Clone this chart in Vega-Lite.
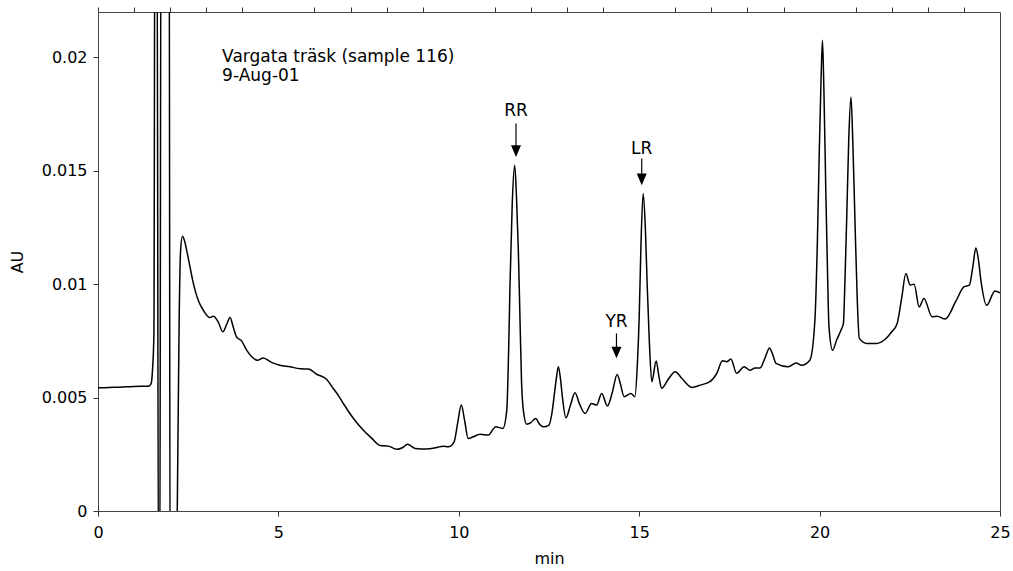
{
  "$schema": "https://vega.github.io/schema/vega-lite/v6.json",
  "width": 902,
  "height": 499,
  "autosize": "none",
  "padding": {"left": 98, "top": 12, "right": 13, "bottom": 60},
  "background": "white",
  "config": {
    "view": {"stroke": "#444", "strokeWidth": 1},
    "font": "DejaVu Sans",
    "axis": {"labelFont": "DejaVu Sans", "titleFont": "DejaVu Sans", "labelFontSize": 16, "titleFontSize": 16, "titleFontWeight": "normal", "labelColor": "black", "titleColor": "black", "tickColor": "#333", "grid": false, "domain": false, "labelOverlap": false}
  },
  "resolve": {"axis": {"x": "independent"}},
  "datasets": {
    "trace": [
      {"t":0,"v":0.00543},{"t":0.3,"v":0.00545},{"t":0.6,"v":0.00546},{"t":0.9,"v":0.00548},{"t":1.2,"v":0.0055},{"t":1.4,"v":0.0055},{"t":1.47,"v":0.0056},{"t":1.51,"v":0.0062},{"t":1.55,"v":0.0078},{"t":1.58,"v":0.03},{"t":1.63,"v":0.03},{"t":1.68,"v":-0.005},{"t":1.71,"v":-0.005},{"t":1.75,"v":0.03},{"t":1.97,"v":0.03},{"t":2.0,"v":-0.005},{"t":2.16,"v":-0.005},{"t":2.2,"v":0.0005},{"t":2.25,"v":0.0085},{"t":2.29,"v":0.0115},{"t":2.34,"v":0.01211},{"t":2.4,"v":0.0119},{"t":2.47,"v":0.0114},{"t":2.55,"v":0.01076},{"t":2.62,"v":0.0102},{"t":2.69,"v":0.00974},{"t":2.8,"v":0.0092},{"t":2.92,"v":0.00885},{"t":3.1,"v":0.00853},{"t":3.2,"v":0.00859},{"t":3.33,"v":0.00834},{"t":3.46,"v":0.0079},{"t":3.56,"v":0.0082},{"t":3.66,"v":0.00853},{"t":3.75,"v":0.0081},{"t":3.84,"v":0.00768},{"t":3.98,"v":0.0075},{"t":4.12,"v":0.00709},{"t":4.26,"v":0.0068},{"t":4.42,"v":0.00665},{"t":4.58,"v":0.00675},{"t":4.81,"v":0.00655},{"t":5.04,"v":0.00643},{"t":5.32,"v":0.00636},{"t":5.6,"v":0.00627},{"t":5.83,"v":0.00626},{"t":6.06,"v":0.00603},{"t":6.34,"v":0.0058},{"t":6.52,"v":0.0054},{"t":6.66,"v":0.0051},{"t":6.8,"v":0.00474},{"t":7.08,"v":0.00408},{"t":7.35,"v":0.00357},{"t":7.59,"v":0.0032},{"t":7.82,"v":0.00289},{"t":8.05,"v":0.00286},{"t":8.28,"v":0.00272},{"t":8.45,"v":0.0028},{"t":8.58,"v":0.00294},{"t":8.79,"v":0.00276},{"t":9.11,"v":0.00273},{"t":9.39,"v":0.0028},{"t":9.57,"v":0.00286},{"t":9.71,"v":0.00283},{"t":9.87,"v":0.00305},{"t":9.97,"v":0.0039},{"t":10.07,"v":0.00467},{"t":10.16,"v":0.004},{"t":10.26,"v":0.0032},{"t":10.4,"v":0.00327},{"t":10.59,"v":0.00338},{"t":10.82,"v":0.00335},{"t":10.95,"v":0.0036},{"t":11.02,"v":0.00371},{"t":11.22,"v":0.00364},{"t":11.33,"v":0.00445},{"t":11.38,"v":0.007},{"t":11.42,"v":0.01003},{"t":11.48,"v":0.0135},{"t":11.55,"v":0.01524},{"t":11.6,"v":0.0138},{"t":11.65,"v":0.0115},{"t":11.7,"v":0.0082},{"t":11.74,"v":0.00563},{"t":11.8,"v":0.0043},{"t":11.88,"v":0.00383},{"t":12.0,"v":0.0039},{"t":12.13,"v":0.00408},{"t":12.25,"v":0.0038},{"t":12.34,"v":0.00371},{"t":12.5,"v":0.00379},{"t":12.58,"v":0.0043},{"t":12.64,"v":0.00504},{"t":12.7,"v":0.0058},{"t":12.76,"v":0.00636},{"t":12.82,"v":0.0058},{"t":12.87,"v":0.00504},{"t":12.97,"v":0.00411},{"t":13.1,"v":0.0047},{"t":13.22,"v":0.00521},{"t":13.35,"v":0.0047},{"t":13.5,"v":0.0043},{"t":13.68,"v":0.00474},{"t":13.82,"v":0.00467},{"t":13.96,"v":0.00518},{"t":14.12,"v":0.00463},{"t":14.25,"v":0.0052},{"t":14.39,"v":0.00602},{"t":14.48,"v":0.0056},{"t":14.58,"v":0.00504},{"t":14.77,"v":0.00518},{"t":14.88,"v":0.00504},{"t":14.95,"v":0.0065},{"t":15.0,"v":0.00856},{"t":15.05,"v":0.0118},{"t":15.11,"v":0.014},{"t":15.17,"v":0.0125},{"t":15.22,"v":0.01003},{"t":15.28,"v":0.0075},{"t":15.35,"v":0.0057},{"t":15.47,"v":0.00661},{"t":15.55,"v":0.0059},{"t":15.62,"v":0.00541},{"t":15.8,"v":0.0058},{"t":16.0,"v":0.00614},{"t":16.18,"v":0.00585},{"t":16.46,"v":0.00545},{"t":16.69,"v":0.00555},{"t":16.96,"v":0.0057},{"t":17.15,"v":0.00607},{"t":17.31,"v":0.00662},{"t":17.43,"v":0.00658},{"t":17.54,"v":0.0067},{"t":17.7,"v":0.00607},{"t":17.91,"v":0.00636},{"t":18.07,"v":0.00621},{"t":18.21,"v":0.00631},{"t":18.35,"v":0.00631},{"t":18.5,"v":0.0068},{"t":18.61,"v":0.00719},{"t":18.7,"v":0.0069},{"t":18.79,"v":0.00651},{"t":19.13,"v":0.00636},{"t":19.35,"v":0.00653},{"t":19.5,"v":0.00643},{"t":19.73,"v":0.00665},{"t":19.87,"v":0.00841},{"t":19.94,"v":0.012},{"t":19.99,"v":0.01576},{"t":20.04,"v":0.019},{"t":20.08,"v":0.02075},{"t":20.12,"v":0.0185},{"t":20.17,"v":0.01429},{"t":20.22,"v":0.0105},{"t":20.26,"v":0.00812},{"t":20.36,"v":0.00709},{"t":20.47,"v":0.00753},{"t":20.6,"v":0.008},{"t":20.66,"v":0.00827},{"t":20.7,"v":0.01},{"t":20.75,"v":0.01282},{"t":20.81,"v":0.0165},{"t":20.87,"v":0.01825},{"t":20.92,"v":0.0163},{"t":20.98,"v":0.01282},{"t":21.04,"v":0.0095},{"t":21.1,"v":0.00761},{"t":21.31,"v":0.00739},{"t":21.58,"v":0.00739},{"t":21.81,"v":0.00756},{"t":22.0,"v":0.0079},{"t":22.15,"v":0.00827},{"t":22.28,"v":0.00944},{"t":22.39,"v":0.01047},{"t":22.51,"v":0.00996},{"t":22.62,"v":0.01},{"t":22.76,"v":0.009},{"t":22.89,"v":0.00937},{"t":23.12,"v":0.00856},{"t":23.26,"v":0.00859},{"t":23.48,"v":0.00846},{"t":23.78,"v":0.00926},{"t":24.0,"v":0.00988},{"t":24.15,"v":0.00996},{"t":24.25,"v":0.0108},{"t":24.33,"v":0.0116},{"t":24.4,"v":0.0111},{"t":24.47,"v":0.01018},{"t":24.63,"v":0.00907},{"t":24.86,"v":0.0097},{"t":25.0,"v":0.00962}
    ],
    "notesLeft": [
      {"t":3.44,"v":0.02,"text":"Vargata träsk (sample 116)"},
      {"t":3.44,"v":0.0192,"text":"9-Aug-01"}
    ],
    "notesCenter": [
      {"t":11.585,"v":0.01763,"text":"RR"},
      {"t":15.07,"v":0.01598,"text":"LR"},
      {"t":14.37,"v":0.00834,"text":"YR"}
    ],
    "arrows": [
      {"t":11.585,"v1":0.01708,"v2":0.0159,"tip":0.01561},
      {"t":15.07,"v1":0.01554,"v2":0.0146,"tip":0.01436},
      {"t":14.37,"v1":0.00783,"v2":0.0070,"tip":0.00673}
    ],
    "ticks": [
      {"t":0},{"t":1},{"t":2},{"t":3},{"t":4},{"t":5},{"t":6},{"t":7},{"t":8},{"t":9},{"t":10},{"t":11},{"t":12},{"t":13},{"t":14},{"t":15},{"t":16},{"t":17},{"t":18},{"t":19},{"t":20},{"t":21},{"t":22},{"t":23},{"t":24},{"t":25}
    ]
  },
  "layer": [
    {
      "data": {"name": "trace"},
      "mark": {"type": "line", "color": "black", "strokeWidth": 1.5, "clip": true, "interpolate": "monotone"},
      "encoding": {
        "x": {"field": "t", "type": "quantitative", "scale": {"domain": [0, 25], "nice": false},
          "axis": {"title": "min", "values": [0, 5, 10, 15, 20, 25], "format": "d", "labelFlush": false, "labelBound": false, "tickSize": 5, "labelPadding": 8, "titlePadding": 10}},
        "y": {"field": "v", "type": "quantitative", "scale": {"domain": [0, 0.022], "nice": false, "zero": false},
          "axis": {"title": "AU", "values": [0, 0.005, 0.01, 0.015, 0.02], "format": "~g", "labelFlush": false, "tickSize": 5, "labelPadding": 6, "titlePadding": 16}}
      }
    },
    {
      "data": {"name": "ticks"},
      "mark": {"type": "point", "opacity": 0},
      "encoding": {
        "x": {"field": "t", "type": "quantitative",
          "axis": {"title": null, "values": [0,1,2,3,4,6,7,8,9,11,12,13,14,16,17,18,19,21,22,23,24], "labels": false, "tickSize": 5}},
        "y": {"datum": 0, "type": "quantitative"}
      }
    },
    {
      "data": {"name": "notesLeft"},
      "mark": {"type": "text", "fontSize": 17, "font": "DejaVu Sans", "baseline": "middle", "align": "left", "color": "black"},
      "encoding": {
        "x": {"field": "t", "type": "quantitative", "axis": null},
        "y": {"field": "v", "type": "quantitative"},
        "text": {"field": "text"}
      }
    },
    {
      "data": {"name": "notesCenter"},
      "mark": {"type": "text", "fontSize": 17, "font": "DejaVu Sans", "baseline": "middle", "align": "center", "color": "black"},
      "encoding": {
        "x": {"field": "t", "type": "quantitative", "axis": null},
        "y": {"field": "v", "type": "quantitative"},
        "text": {"field": "text"}
      }
    },
    {
      "data": {"name": "arrows"},
      "mark": {"type": "rule", "color": "black", "strokeWidth": 1.2},
      "encoding": {
        "x": {"field": "t", "type": "quantitative", "axis": null},
        "y": {"field": "v1", "type": "quantitative"},
        "y2": {"field": "v2"}
      }
    },
    {
      "data": {"name": "arrows"},
      "mark": {"type": "point", "shape": "M-1,-2.34L1,-2.34L0,0Z", "size": 100, "filled": true, "color": "black", "opacity": 1},
      "encoding": {
        "x": {"field": "t", "type": "quantitative", "axis": null},
        "y": {"field": "tip", "type": "quantitative"}
      }
    }
  ]
}
